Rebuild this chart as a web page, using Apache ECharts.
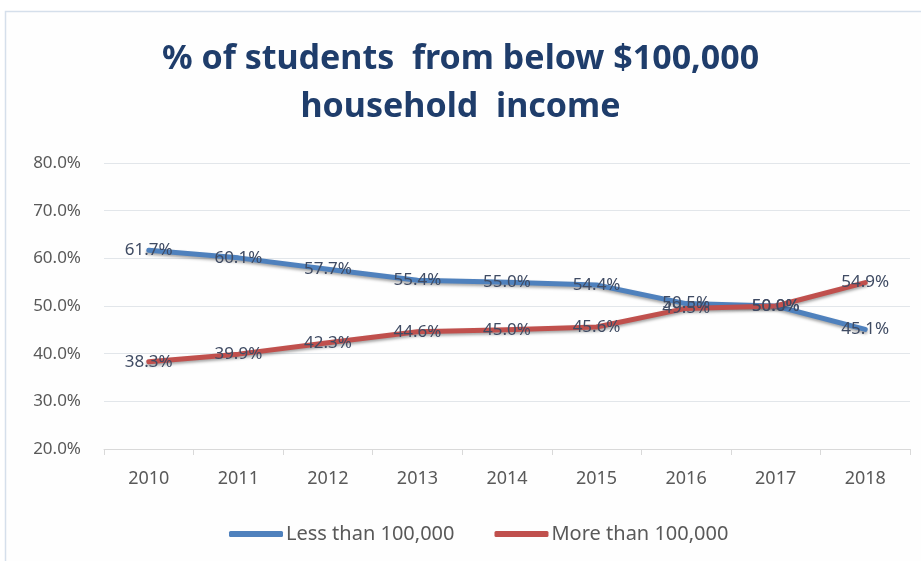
<!DOCTYPE html>
<html>
<head>
<meta charset="utf-8">
<script src="https://cdn.jsdelivr.net/npm/echarts@6/dist/echarts.min.js"></script>
<style>
  html, body { margin: 0; padding: 0; background: #ffffff; }
  #chart { width: 921px; height: 561px; }
</style>
</head>
<body>
<div id="chart"></div>
<script>
// Survey years shown on the category axis
const years = ['2010', '2011', '2012', '2013', '2014', '2015', '2016', '2017', '2018'];

// Share of students (%) by household income band
const lessThan100k = [61.7, 60.1, 57.7, 55.4, 55.0, 54.4, 50.5, 50.0, 45.1];
const moreThan100k = [38.3, 39.9, 42.3, 44.6, 45.0, 45.6, 49.5, 50.0, 54.9];

const seriesNames = ['Less than 100,000', 'More than 100,000'];
const titleLines = ['% of students  from below $100,000', 'household  income'];

const FONT = '"Noto Sans", "Open Sans", sans-serif';
const BLUE = '#4f81bd';
const RED = '#c0504d';

const chart = echarts.init(document.getElementById('chart'), null, { renderer: 'canvas' });

function lineSeries(name, data, color) {
  return {
    name: name,
    type: 'line',
    data: data,
    symbol: 'circle',
    symbolSize: 3,
    showSymbol: true,
    lineStyle: {
      color: color,
      width: 5,
      cap: 'round',
      join: 'round',
      shadowColor: 'rgba(0,0,0,0.35)',
      shadowBlur: 3,
      shadowOffsetY: 2
    },
    itemStyle: { color: color, borderWidth: 0 },
    label: {
      show: true,
      position: 'inside',
      formatter: p => p.value.toFixed(1) + '%',
      color: '#3f4b63',
      fontFamily: FONT,
      fontSize: 17
    },
    labelLayout: { hideOverlap: false },
    emphasis: { disabled: true },
    z: 2
  };
}

chart.setOption({
  backgroundColor: '#ffffff',
  animation: false,
  graphic: [{
    type: 'rect',
    shape: { x: 5.5, y: 11.5, width: 940, height: 600 },
    style: { fill: '#fefefe', stroke: '#d5dfeb', lineWidth: 1.5 },
    z: -10
  }],
  title: {
    text: titleLines.join('\n'),
    left: 'center',
    top: 30,
    textStyle: {
      fontFamily: FONT,
      fontWeight: 'bold',
      fontSize: 34,
      lineHeight: 48,
      color: '#1f3d6b'
    }
  },
  grid: { left: 104, right: 11, top: 163, bottom: 112, containLabel: false },
  xAxis: {
    type: 'category',
    data: years,
    boundaryGap: true,
    axisLine: { lineStyle: { color: '#d9d9d9', width: 1 } },
    axisTick: { show: true, length: 6, lineStyle: { color: '#d9d9d9' } },
    axisLabel: { color: '#595959', fontFamily: FONT, fontSize: 18, margin: 21 }
  },
  yAxis: {
    type: 'value',
    min: 20,
    max: 80,
    interval: 10,
    axisLine: { show: false },
    axisTick: { show: false },
    splitLine: { lineStyle: { color: '#e2e6ea', width: 1 } },
    axisLabel: {
      color: '#595959',
      fontFamily: FONT,
      fontSize: 17,
      margin: 23,
      formatter: v => v.toFixed(1) + '%'
    }
  },
  legend: {
    bottom: 12,
    left: 224,
    itemGap: 40,
    itemWidth: 54,
    itemHeight: 6,
    icon: 'roundRect',
    textStyle: { color: '#595959', fontFamily: FONT, fontSize: 20, padding: [0, 0, 0, -2] },
    data: seriesNames
  },
  series: [
    lineSeries(seriesNames[0], lessThan100k, BLUE),
    lineSeries(seriesNames[1], moreThan100k, RED)
  ]
});
</script>
</body>
</html>
